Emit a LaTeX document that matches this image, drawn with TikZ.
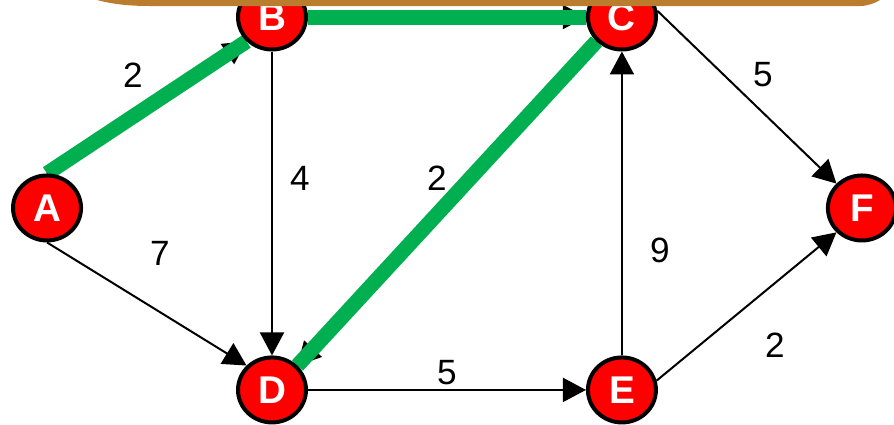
\documentclass[tikz,border=0pt]{standalone}
\usepackage{fontspec}
\setmainfont{Liberation Sans}
\usetikzlibrary{arrows.meta,positioning,shapes.geometric,backgrounds}
\definecolor{cred}{RGB}{255,0,0}
\definecolor{cgreen}{RGB}{0,176,80}
\definecolor{cbrown}{RGB}{186,125,46}
\tikzset{vtx/.style={ellipse,draw,fill=cred,line width=0.08cm,minimum width=1.36cm,minimum height=1.3cm,
    inner sep=0pt,text=white,font=\fontsize{22}{24}\selectfont\bfseries},
  wt/.style={font=\fontsize{20}{22}\selectfont,inner sep=1pt},
  arr/.style={-{Triangle[length=0.46cm,width=0.48cm]},line width=0.04cm},
  hot/.style={cgreen,line width=0.3cm}}

\begin{document}
\begin{tikzpicture}[x=0.02cm,y=-0.02cm,node distance=7.46cm and 7cm,on grid]
\useasboundingbox (0,0) rectangle (894,424);
\node[vtx] (b) at (272,17) {B};
\node[vtx,right=of b] (c) {C};
\node[vtx,below=of b] (d) {D};
\node[vtx,right=of d] (e) {E};
\node[vtx,below left=3.82cm and 4.5cm of b] (a) {A};
\node[vtx,below right=3.82cm and 4.8cm of c] (f) {F};
% weights
\node[wt] (wab) at (133,75) {2};
\node[wt] (wbc) at (435,-6) {1};
\node[wt] (wbd) at (300,178) {4};
\node[wt] (wcd) at (437,178) {2};
\node[wt] (wad) at (160,253) {7};
\node[wt] (wcf) at (763,75) {5};
\node[wt] (wec) at (660,250) {9};
\node[wt] (wde) at (447,373) {5};
\node[wt] (wef) at (775,345) {2};
\begin{scope}[on background layer]
\draw[arr] (a.north) -- (b.south west);
\draw[arr] (a.south) -- (d.north west);
\draw[arr] (b.east) -- (c.west);
\draw[arr] (b.south) -- (d.north);
\draw[arr] (c.south west) -- (d.north east);
\draw[arr] (c.10) -- (f.north west);
\draw[arr] (d.east) -- (e.west);
\draw[arr] (e.north) -- (c.south);
\draw[arr] (e.15) -- (f.south west);
% shortest path
\draw[hot] (a.north) -- (b.south west);
\draw[hot] (b.east) -- (c.west);
\draw[hot] (c.south west) -- (d.north east);
\end{scope}
% title box edge
\fill[cbrown] (97,0) .. controls (112,4) and (128,6) .. (150,6) -- (860,6)
  .. controls (868,6) and (875,3) .. (880,0) -- cycle;
\end{tikzpicture}
\end{document}
